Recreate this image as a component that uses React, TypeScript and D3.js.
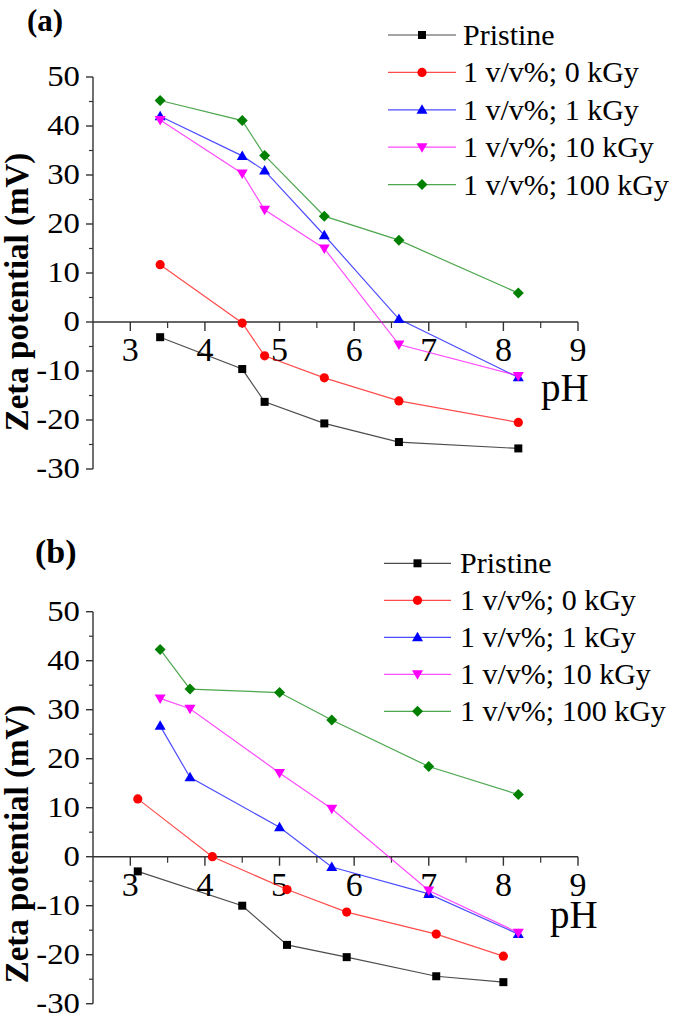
import React from "react";
import * as d3 from "d3";

// ---------- DATA ----------
const seriesNames = ["Pristine", "1 v/v%; 0 kGy", "1 v/v%; 1 kGy", "1 v/v%; 10 kGy", "1 v/v%; 100 kGy"];
const seriesColors = ["#000000", "#ff0000", "#0000ff", "#ff00ff", "#008000"];
const seriesMarkers = ["square", "circle", "triangleUp", "triangleDown", "diamond"];

const yTicks = [-30, -20, -10, 0, 10, 20, 30, 40, 50];
const yMinorTicks = [-25, -15, -5, 5, 15, 25, 35, 45];
const xTicks = [3, 4, 5, 6, 7, 8, 9];
const xMinorTicks = [3.5, 4.5, 5.5, 6.5, 7.5, 8.5];

// Panel (a)
const phA = [3.4, 4.5, 4.8, 5.6, 6.6, 8.2];
const pristineA = [-3.1, -9.6, -16.3, -20.7, -24.5, -25.8];
const kGy0A = [11.7, -0.2, -6.9, -11.4, -16.1, -20.5];
const kGy1A = [42.0, 33.9, 30.9, 17.7, 0.6, -11.3];
const kGy10A = [41.2, 30.3, 22.9, 15.0, -4.6, -11.0];
const kGy100A = [45.2, 41.1, 34.0, 21.6, 16.7, 5.9];

// Panel (b)
const phBPristine = [3.1, 4.5, 5.1, 5.9, 7.1, 8.0];
const pristineB = [-3.0, -10.0, -18.0, -20.5, -24.4, -25.6];
const phB0 = [3.1, 4.1, 5.1, 5.9, 7.1, 8.0];
const kGy0B = [11.8, 0.0, -6.7, -11.3, -15.8, -20.3];
const phBIrr = [3.4, 3.8, 5.0, 5.7, 7.0, 8.2];
const kGy1B = [26.7, 16.2, 6.0, -2.1, -7.6, -15.8];
const kGy10B = [32.3, 30.2, 17.1, 9.8, -6.9, -15.5];
const kGy100B = [42.3, 34.2, 33.5, 27.9, 18.4, 12.7];

const panelAData = [
  { x: phA, y: pristineA },
  { x: phA, y: kGy0A },
  { x: phA, y: kGy1A },
  { x: phA, y: kGy10A },
  { x: phA, y: kGy100A },
];
const panelBData = [
  { x: phBPristine, y: pristineB },
  { x: phB0, y: kGy0B },
  { x: phBIrr, y: kGy1B },
  { x: phBIrr, y: kGy10B },
  { x: phBIrr, y: kGy100B },
];

// ---------- LAYOUT ----------
const W = 675;
const H = 1017;
const serif = "'Liberation Serif', 'Times New Roman', serif";
const axisColor = "#333333";

function Marker({ type, cx, cy, color }: { type: string; cx: number; cy: number; color: string }) {
  if (type === "square") return <rect x={cx - 4} y={cy - 4} width={8} height={8} fill={color} />;
  if (type === "circle") return <circle cx={cx} cy={cy} r={4.6} fill={color} />;
  if (type === "triangleUp")
    return <path d={`M${cx},${cy - 5.5}L${cx + 5.5},${cy + 4}L${cx - 5.5},${cy + 4}Z`} fill={color} />;
  if (type === "triangleDown")
    return <path d={`M${cx},${cy + 5.5}L${cx + 5.5},${cy - 4}L${cx - 5.5},${cy - 4}Z`} fill={color} />;
  return <path d={`M${cx},${cy - 5.5}L${cx + 5.5},${cy}L${cx},${cy + 5.5}L${cx - 5.5},${cy}Z`} fill={color} />;
}

type PanelProps = {
  label: string;
  labelX: number;
  labelY: number;
  labelSize: number;
  yTop: number;
  yBottom: number;
  data: { x: number[]; y: number[] }[];
  legendY: number;
  legendStep: number;
  legendX1: number;
  legendX2: number;
  legendTextX: number;
  yLabelCenter: number;
  phX: number;
  phY: number;
};

function Panel(p: PanelProps) {
  const x = d3.scaleLinear().domain([2.5, 9]).range([93, 578]);
  const y = d3.scaleLinear().domain([-30, 50]).range([p.yBottom, p.yTop]);
  const line = d3
    .line<[number, number]>()
    .x((d) => x(d[0]))
    .y((d) => y(d[1]));
  const y0 = y(0);
  return (
    <g>
      <text x={p.labelX} y={p.labelY} fontFamily={serif} fontWeight="bold" fontSize={p.labelSize} fill="#000">
        {p.label}
      </text>
      {/* y axis */}
      <line x1={x(2.5)} x2={x(2.5)} y1={y(50)} y2={y(-30)} stroke={axisColor} strokeWidth={1.4} />
      {yTicks.map((t) => (
        <g key={"yt" + t}>
          <line x1={x(2.5) - 7} x2={x(2.5)} y1={y(t)} y2={y(t)} stroke={axisColor} strokeWidth={1.4} />
          <text
            transform={`translate(80,${y(t) + 9}) scale(1.13,1)`}
            textAnchor="end"
            fontFamily={serif}
            fontSize={29}
            fill="#000"
          >
            {t}
          </text>
        </g>
      ))}
      {yMinorTicks.map((t) => (
        <line key={"ym" + t} x1={x(2.5) - 4} x2={x(2.5)} y1={y(t)} y2={y(t)} stroke={axisColor} strokeWidth={1.2} />
      ))}
      {/* x axis at y = 0 */}
      <line x1={x(2.5)} x2={x(9)} y1={y0} y2={y0} stroke={axisColor} strokeWidth={1.4} />
      {xTicks.map((t) => (
        <g key={"xt" + t}>
          <line x1={x(t)} x2={x(t)} y1={y0} y2={y0 + 9} stroke={axisColor} strokeWidth={1.4} />
          <text x={x(t)} y={y0 + 39} textAnchor="middle" fontFamily={serif} fontSize={34} fill="#000">
            {t}
          </text>
        </g>
      ))}
      {xMinorTicks.map((t) => (
        <line key={"xm" + t} x1={x(t)} x2={x(t)} y1={y0} y2={y0 + 6} stroke={axisColor} strokeWidth={1.2} />
      ))}
      <text x={p.phX} y={p.phY} fontFamily={serif} fontSize={39} fill="#000">
        pH
      </text>
      <text
        transform={`translate(28,${p.yLabelCenter}) rotate(-90)`}
        textAnchor="middle"
        fontFamily={serif}
        fontWeight="bold"
        fontSize={33}
        fill="#000"
      >
        Zeta potential (mV)
      </text>
      {/* series */}
      {p.data.map((s, i) => {
        const pts: [number, number][] = s.x.map((v, j) => [v, s.y[j]]);
        return (
          <g key={"s" + i}>
            <path d={line(pts) || ""} fill="none" stroke={seriesColors[i]} strokeWidth={1.2} strokeOpacity={0.7} />
            {pts.map((d, j) => (
              <Marker key={j} type={seriesMarkers[i]} cx={x(d[0])} cy={y(d[1])} color={seriesColors[i]} />
            ))}
          </g>
        );
      })}
      {/* legend */}
      {seriesNames.map((n, i) => {
        const ry = p.legendY + i * p.legendStep;
        return (
          <g key={"lg" + i}>
            <line x1={p.legendX1} x2={p.legendX2} y1={ry} y2={ry} stroke={seriesColors[i]} strokeWidth={1.2} strokeOpacity={0.7} />
            <Marker type={seriesMarkers[i]} cx={(p.legendX1 + p.legendX2) / 2} cy={ry} color={seriesColors[i]} />
            <text x={p.legendTextX} y={ry + 10} fontFamily={serif} fontSize={30} fill="#000">
              {n}
            </text>
          </g>
        );
      })}
    </g>
  );
}

export default function App() {
  return (
    <svg
      width={W}
      height={H}
      viewBox={`0 0 ${W} ${H}`}
      style={{ position: "absolute", left: 0, top: 0, background: "#fff" }}
    >
      <rect x={0} y={0} width={W} height={H} fill="#fff" />
      <Panel
        label="(a)"
        labelX={27}
        labelY={31}
        labelSize={31}
        yTop={77}
        yBottom={469}
        data={panelAData}
        legendY={35}
        legendStep={37.4}
        legendX1={388}
        legendX2={456}
        legendTextX={463}
        yLabelCenter={292}
        phX={541}
        phY={401}
      />
      <Panel
        label="(b)"
        labelX={35}
        labelY={563}
        labelSize={34}
        yTop={611.7}
        yBottom={1003.7}
        data={panelBData}
        legendY={563.3}
        legendStep={37}
        legendX1={384}
        legendX2={451}
        legendTextX={460}
        yLabelCenter={844}
        phX={550}
        phY={928}
      />
    </svg>
  );
}
